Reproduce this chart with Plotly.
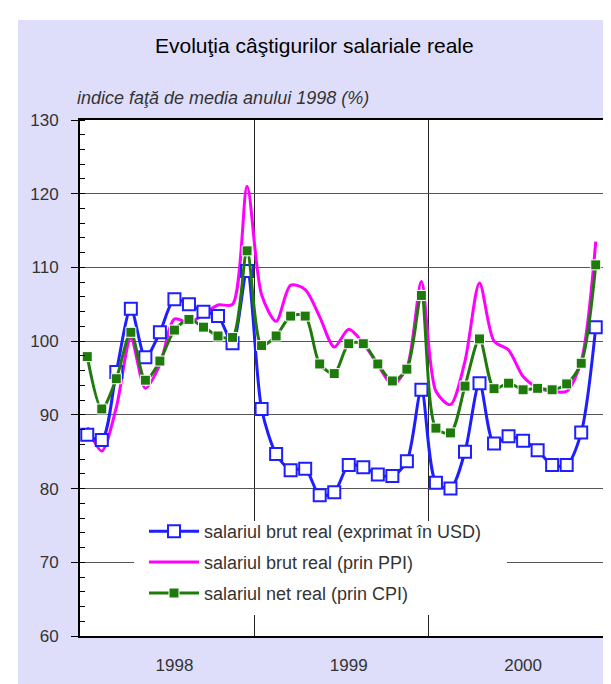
import plotly.graph_objects as go

# ---- data (monthly, Jan 1998 .. Dec 2000) ----
months = list(range(36))
usd = [87.3, 86.6, 95.8, 104.4, 97.8, 101.2, 105.7, 105.0, 104.0, 103.4, 99.7, 109.5,
       90.8, 84.7, 82.5, 82.7, 79.1, 79.5, 83.2, 82.9, 81.9, 81.7, 83.7, 93.4,
       80.8, 80.0, 85.0, 94.3, 86.1, 87.1, 86.5, 85.2, 83.2, 83.2, 87.6, 101.9]
ppi = [88.3, 85.1, 91.0, 100.4, 93.6, 96.8, 103.0, 102.5, 103.6, 104.9, 105.0, 121.0,
       106.3, 102.7, 107.6, 107.0, 103.3, 99.2, 101.6, 99.7, 96.8, 94.1, 96.4, 108.1,
       93.2, 91.4, 97.3, 107.9, 100.0, 98.8, 95.2, 93.7, 93.2, 93.2, 97.3, 113.5]
cpi = [97.9, 90.8, 94.9, 101.2, 94.7, 97.3, 101.5, 102.95, 101.9, 100.7, 100.5, 112.25,
       99.4, 100.7, 103.4, 103.4, 96.9, 95.6, 99.65, 99.65, 96.9, 94.6, 96.2, 106.2,
       88.2, 87.55, 93.9, 100.3, 93.55, 94.3, 93.4, 93.6, 93.4, 94.2, 97.0, 110.35]
year_pos = [6, 18, 30]
year_labels = ["1998", "1999", "2000"]
year_bounds = [11.5, 23.5]
names = ["salariul brut real (exprimat în USD)",
         "salariul brut real (prin PPI)",
         "salariul net real (prin CPI)"]

W, H = 611, 684
L, R, T, B = 72, 16, 112, 56
pw, ph = W - L - R, H - T - B

def px_x(px):
    return (px - L) / pw

def px_y(py):
    return (H - B - py) / ph

BLUE = "#1E1EFF"
MAG = "#FF00FF"
GREEN = "#1F7A0C"
LAV = "#DEDEFB"
FONT = "Liberation Sans, Arial, sans-serif"

fig = go.Figure()
fig.add_trace(go.Scatter(x=months, y=ppi, name=names[1], mode="lines", legendgroup="b",
                         line=dict(color=MAG, width=3, shape="spline", smoothing=0.8),
                         legendrank=2))
fig.add_trace(go.Scatter(x=months, y=usd, name=names[0], mode="lines+markers", legendgroup="a",
                         line=dict(color=BLUE, width=3, shape="spline", smoothing=0.8),
                         marker=dict(symbol="square", size=12, color="white",
                                     line=dict(color=BLUE, width=2)),
                         legendrank=1))
fig.add_trace(go.Scatter(x=months, y=cpi, name=names[2], mode="lines+markers", legendgroup="c",
                         line=dict(color=GREEN, width=3, shape="spline", smoothing=0.8),
                         marker=dict(symbol="square", size=10, color=GREEN,
                                     line=dict(color="white", width=1)),
                         legendrank=3))

shapes = [
    dict(type="rect", xref="paper", yref="paper", x0=px_x(0), x1=px_x(W), y0=px_y(12), y1=px_y(0),
         fillcolor="white", line=dict(width=0), layer="below"),
    dict(type="rect", xref="paper", yref="paper", x0=px_x(0), x1=px_x(10), y0=px_y(H), y1=px_y(0),
         fillcolor="white", line=dict(width=0), layer="below"),
    # white legend panel
    dict(type="rect", xref="paper", yref="paper", x0=px_x(126), x1=px_x(499), y0=px_y(607), y1=px_y(513),
         fillcolor="white", line=dict(width=0), layer="above"),
]

fig.update_layout(
    width=W, height=H,
    margin=dict(l=L, r=R, t=T, b=B),
    paper_bgcolor=LAV, plot_bgcolor="white",
    font=dict(family=FONT, color="#333333", size=16),
    showlegend=True,
    legend=dict(x=px_x(136), y=px_y(505), xanchor="left", yanchor="top",
                bgcolor="rgba(255,255,255,0)", borderwidth=0, itemwidth=50,
                font=dict(size=18, color="#333333"), tracegroupgap=4.5,
                traceorder="grouped"),
    shapes=shapes,
    annotations=[
        dict(text="Evoluţia câştigurilor salariale reale", xref="paper", yref="paper",
             x=px_x(306), y=px_y(38), xanchor="center", yanchor="middle", showarrow=False,
             font=dict(size=21, color="black", family=FONT)),
        dict(text="<i>indice faţă de media anului 1998 (%)</i>", xref="paper", yref="paper",
             x=px_x(67), y=px_y(90), xanchor="left", yanchor="middle", showarrow=False,
             font=dict(size=18, color="#333333", family=FONT)),
    ],
)

fig.update_xaxes(range=[-0.5, 35.5], tickmode="array", tickvals=year_pos, ticktext=year_labels,
                 ticks="outside", ticklen=13, tickcolor="rgba(0,0,0,0)",
                 showgrid=False, zeroline=False,
                 showline=True, linecolor="black", linewidth=2, mirror=True,
                 minor=dict(tickmode="array", tickvals=year_bounds, showgrid=True,
                            gridcolor="#222222", gridwidth=1, ticks=""),
                 tickfont=dict(size=17, color="#333333"))
fig.update_yaxes(range=[60, 130], tickmode="linear", tick0=60, dtick=10,
                 ticks="outside", ticklen=7, tickcolor="black", tickwidth=1,
                 ticklabelstandoff=9,
                 showgrid=True, gridcolor="#555555", gridwidth=1, zeroline=False,
                 showline=True, linecolor="black", linewidth=2, mirror=True,
                 minor=dict(dtick=2, ticks="inside", ticklen=5, tickcolor="black", showgrid=False),
                 tickfont=dict(size=17, color="#333333"))

fig.write_html("out.html")
